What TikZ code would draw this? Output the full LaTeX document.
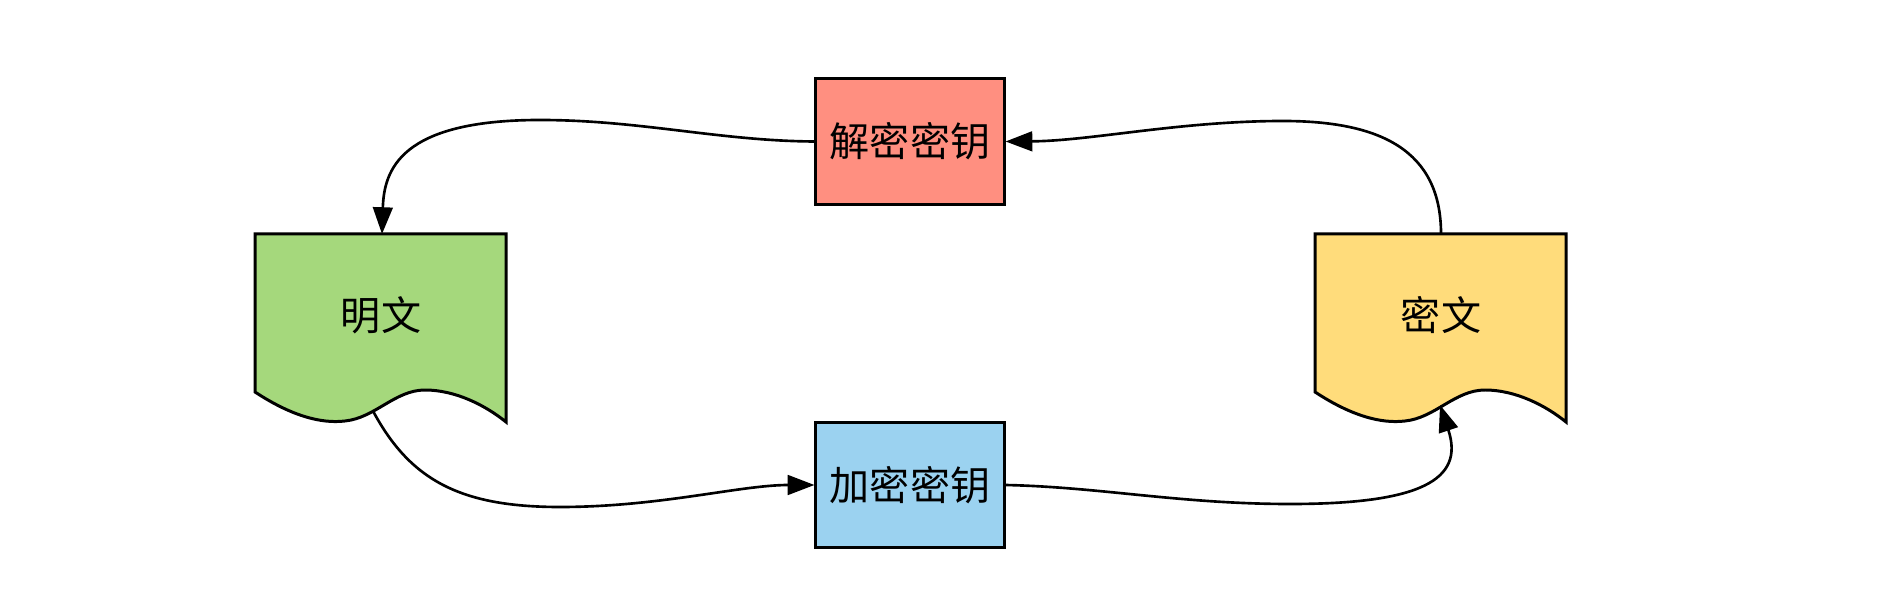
\documentclass[tikz,border=0pt]{standalone}
\usepackage{fontspec}
\setmainfont{Noto Sans CJK SC}
\usetikzlibrary{arrows.meta}
\definecolor{redfill}{RGB}{255,143,128}
\definecolor{bluefill}{RGB}{155,210,240}
\definecolor{greenfill}{RGB}{165,216,124}
\definecolor{yellowfill}{RGB}{255,220,123}
\begin{document}
\begin{tikzpicture}[x=0.01cm,y=-0.01cm,
  keybox/.style={draw=black, line width=0.85pt, minimum width=1.88cm, minimum height=1.25cm, inner sep=0pt, font=\fontsize{11.4pt}{13pt}\selectfont},
  docshape/.style={draw=black, line width=0.85pt},
  doclabel/.style={inner sep=0pt, font=\fontsize{11.4pt}{13pt}\selectfont},
  link/.style={draw=black, line width=0.75pt},
  arr/.style={link, -{Triangle[length=7.6pt,width=5.6pt]}}]
\useasboundingbox (0,0) rectangle (1886,610);
\node[keybox, fill=redfill] (dec) at (910,141.5) {解密密钥};
\node[keybox, fill=bluefill] (enc) at (910,485) {加密密钥};
\path[docshape, fill=greenfill] (255,234) -- (506,234) -- (506,422) .. controls (485,405) and (455,390) .. (425,390) .. controls (395,390) and (375,418) .. (345,421) .. controls (320,424) and (290,415) .. (255,392) -- cycle;
\begin{scope}[shift={(1060,0)}]
\path[docshape, fill=yellowfill] (255,234) -- (506,234) -- (506,422) .. controls (485,405) and (455,390) .. (425,390) .. controls (395,390) and (375,418) .. (345,421) .. controls (320,424) and (290,415) .. (255,392) -- cycle;
\end{scope}
\node[doclabel] (plain) at (381,315) {明文};
\node[doclabel] (cipher) at (1441,315) {密文};
\coordinate (ptop) at (382,234);
\coordinate (pbot) at (373,411);
\coordinate (ctop) at (1441,234);
\coordinate (cbot) at (1440,405);
\draw[arr] (dec.west) .. controls (720,141) and (640,120) .. (540,120) .. controls (400,120) and (384,170) .. (ptop);
\draw[arr] (ctop) .. controls (1441,150) and (1380,121) .. (1283,121) .. controls (1180,121) and (1090,141) .. (dec.east);
\draw[arr] (pbot) .. controls (410,480) and (460,507) .. (560,507) .. controls (660,507) and (740,485) .. (enc.west);
\draw[arr] (enc.east) .. controls (1100,487) and (1180,504) .. (1290,504) .. controls (1420,504) and (1465,480) .. (cbot);
\end{tikzpicture}
\end{document}
